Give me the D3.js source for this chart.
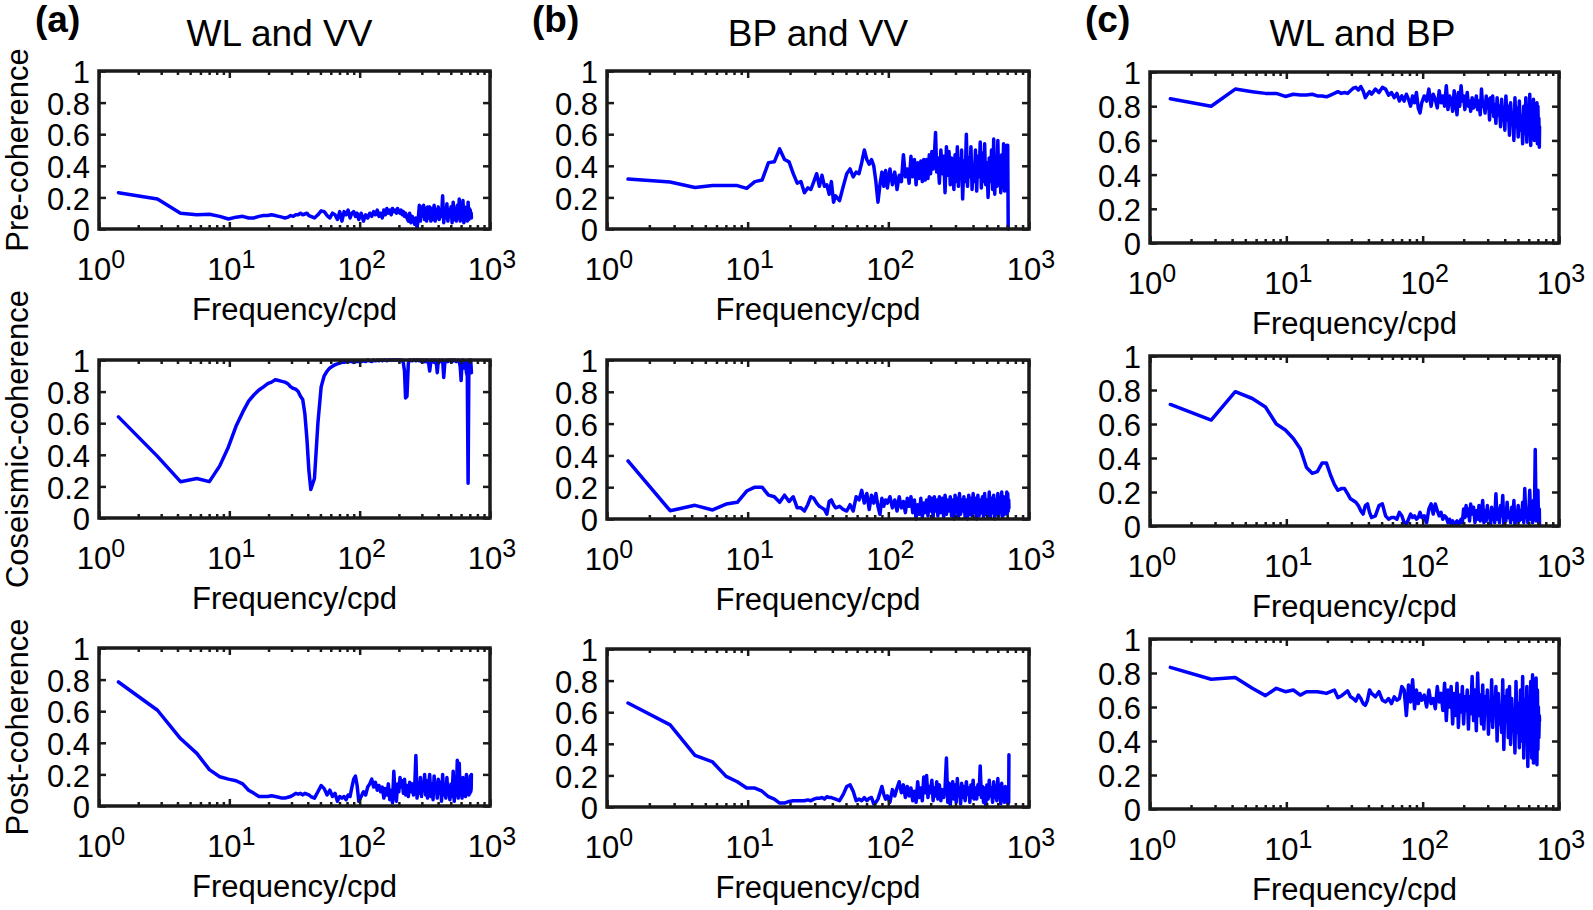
<!DOCTYPE html>
<html><head><meta charset="utf-8">
<script src="https://cdn.jsdelivr.net/npm/d3@7"></script>
<style>
html,body{margin:0;padding:0;background:#fff;}
svg{display:block;font-family:"Liberation Sans",Arial,Helvetica,sans-serif;}
</style></head>
<body><svg id="chart" width="1593" height="910"></svg>
<script>
// ---------------- DATA ----------------
const columnTitles = ["WL and VV", "BP and VV", "WL and BP"];
const panelLetters = ["(a)", "(b)", "(c)"];
const rowLabels = ["Pre-coherence", "Coseismic-coherence", "Post-coherence"];
const xLabel = "Frequency/cpd";
const yTicks = [0, 0.2, 0.4, 0.6, 0.8, 1];
const yTickLabels = ["0", "0.2", "0.4", "0.6", "0.8", "1"];
const xDecades = [1, 10, 100, 1000];
const xDecadeExps = ["0", "1", "2", "3"];

// frequency grid (cpd)
const freq = [
 1.41, 2.81, 4.22, 5.63, 7.03, 8.44, 9.84, 11.25, 12.66, 14.06,
 15.47, 16.88, 18.28, 19.69, 21.09, 22.5, 23.91, 25.31, 26.72, 28.13,
 29.53, 30.94, 32.34, 33.75, 35.16, 36.56, 37.97, 39.38, 40.78, 42.19,
 45.0, 47.81, 50.63, 53.44, 56.25, 59.06, 61.88, 64.69, 67.5, 70.31,
 73.13, 75.94, 78.75, 81.56, 84.38, 87.19, 90.0, 92.81, 95.63, 98.44,
 102.7, 106.9, 111.1, 115.3, 119.5, 123.8, 128.0, 132.2, 136.4, 140.6,
 144.8, 149.1, 153.3, 157.5, 161.7, 165.9, 170.2, 174.4, 178.6, 182.8,
 187.0, 191.3, 195.5, 199.7, 203.9, 208.1, 212.3, 216.6, 220.8, 225.0,
 230.6, 236.3, 241.9, 247.5, 253.1, 258.8, 264.4, 270.0, 275.6, 281.3,
 286.9, 292.5, 298.1, 303.8, 309.4, 315.0, 320.6, 326.3, 331.9, 337.5,
 344.5, 351.6, 358.6, 365.6, 372.7, 379.7, 386.7, 393.8, 400.8, 407.8,
 416.3, 424.7, 433.1, 441.6, 450.0, 458.4, 466.9, 475.3, 483.8, 492.2,
 502.0, 511.9, 521.7, 531.6, 541.4, 551.3, 561.1, 570.9, 580.8, 590.6,
 600.5, 610.3, 620.2, 630.0, 639.8, 649.7, 659.5, 669.4, 679.2, 689.1,
 694.7, 700.3, 705.9, 711.6, 717.2, 720.0
];

// (a) WL and VV
const wlvvPre = [
 0.23,0.19,0.10,0.09,0.093,0.08,0.063,0.075,0.08,0.07,
 0.07,0.08,0.085,0.085,0.09,0.085,0.08,0.075,0.07,0.075,
 0.085,0.08,0.09,0.09,0.10,0.09,0.095,0.10,0.085,0.08,
 0.07,0.09,0.115,0.11,0.085,0.07,0.10,0.09,0.06,0.11,
 0.05,0.11,0.09,0.12,0.07,0.10,0.11,0.08,0.10,0.06,
 0.10,0.05,0.09,0.07,0.10,0.08,0.11,0.09,0.12,0.08,
 0.10,0.07,0.12,0.09,0.13,0.10,0.12,0.09,0.13,0.11,
 0.12,0.10,0.13,0.11,0.10,0.12,0.09,0.11,0.08,0.10,
 0.07,0.05,0.10,0.04,0.08,0.06,0.03,0.07,0.01,0.06,
 0.15,0.05,0.14,0.08,0.15,0.06,0.13,0.05,0.14,0.07,
 0.14,0.05,0.13,0.06,0.15,0.05,0.12,0.07,0.14,0.06,
 0.12,0.08,0.21,0.04,0.13,0.07,0.16,0.05,0.12,0.08,
 0.14,0.04,0.17,0.06,0.13,0.05,0.15,0.07,0.19,0.05,
 0.16,0.06,0.18,0.04,0.14,0.07,0.12,0.05,0.17,0.06,
 0.13,0.07,0.12,0.08,0.10,0.07
];
const wlvvCo = [
 0.64,0.39,0.23,0.25,0.23,0.33,0.45,0.58,0.67,0.74,
 0.78,0.81,0.83,0.85,0.86,0.875,0.87,0.865,0.86,0.85,
 0.83,0.82,0.815,0.80,0.77,0.75,0.66,0.50,0.30,0.18,
 0.25,0.60,0.83,0.90,0.93,0.95,0.96,0.97,0.975,0.98,
 0.985,0.985,0.99,0.99,0.99,0.99,0.985,0.99,0.99,0.99,
 0.99,0.995,0.99,1.0,0.995,0.99,1.0,0.995,1.0,0.995,
 1.0,0.995,1.0,1.0,0.995,1.0,1.0,1.0,1.0,1.0,
 1.0,1.0,1.0,1.0,1.0,0.995,1.0,0.98,0.93,0.76,
 0.77,0.98,1.0,1.0,0.995,1.0,1.0,0.995,1.0,1.0,
 0.995,1.0,0.99,1.0,0.995,0.99,1.0,0.99,1.0,0.985,
 0.93,0.99,1.0,0.99,0.985,1.0,0.99,0.92,0.99,1.0,
 0.99,0.995,1.0,0.89,0.98,0.995,1.0,0.99,1.0,0.995,
 1.0,0.99,1.0,0.995,1.0,0.99,0.995,1.0,0.99,0.96,
 0.87,0.99,1.0,0.95,0.97,0.99,0.92,0.90,0.22,1.0,
 0.93,0.99,0.92,1.0,0.95,0.92
];
const wlvvPost = [
 0.785,0.606,0.427,0.333,0.23,0.185,0.17,0.16,0.14,0.10,
 0.08,0.06,0.06,0.06,0.065,0.06,0.055,0.05,0.05,0.055,
 0.06,0.07,0.08,0.075,0.08,0.07,0.08,0.075,0.07,0.06,
 0.05,0.09,0.13,0.11,0.07,0.10,0.06,0.08,0.03,0.06,
 0.05,0.06,0.04,0.07,0.06,0.12,0.17,0.19,0.13,0.03,
 0.06,0.09,0.07,0.12,0.14,0.17,0.12,0.15,0.10,0.13,
 0.09,0.12,0.05,0.11,0.07,0.14,0.04,0.10,0.02,0.22,
 0.08,0.03,0.14,0.09,0.18,0.12,0.16,0.08,0.17,0.07,
 0.13,0.06,0.15,0.09,0.14,0.07,0.12,0.32,0.05,0.13,
 0.08,0.18,0.06,0.14,0.10,0.20,0.07,0.16,0.05,0.12,
 0.20,0.06,0.14,0.04,0.19,0.09,0.13,0.05,0.17,0.08,
 0.15,0.03,0.20,0.07,0.13,0.05,0.18,0.08,0.11,0.04,
 0.14,0.06,0.22,0.03,0.12,0.07,0.29,0.05,0.27,0.08,
 0.13,0.05,0.18,0.08,0.12,0.06,0.20,0.09,0.10,0.07,
 0.13,0.08,0.19,0.09,0.11,0.20
];

// (b) BP and VV
const bpvvPre = [
 0.316,0.297,0.263,0.276,0.275,0.275,0.257,0.30,0.31,0.42,
 0.425,0.507,0.44,0.425,0.35,0.29,0.30,0.23,0.26,0.25,
 0.30,0.35,0.27,0.34,0.27,0.28,0.22,0.30,0.17,0.21,
 0.18,0.27,0.35,0.38,0.33,0.36,0.35,0.42,0.50,0.44,
 0.41,0.44,0.40,0.30,0.17,0.28,0.36,0.27,0.37,0.26,
 0.38,0.28,0.36,0.25,0.34,0.30,0.47,0.33,0.38,0.29,
 0.46,0.33,0.44,0.28,0.42,0.32,0.43,0.30,0.44,0.31,
 0.44,0.32,0.47,0.35,0.49,0.38,0.46,0.61,0.36,0.45,
 0.29,0.50,0.35,0.46,0.23,0.52,0.34,0.49,0.28,0.45,
 0.38,0.25,0.47,0.30,0.52,0.27,0.44,0.32,0.50,0.19,
 0.43,0.30,0.60,0.27,0.45,0.33,0.52,0.25,0.41,0.30,
 0.50,0.24,0.46,0.33,0.55,0.26,0.48,0.30,0.54,0.28,
 0.42,0.20,0.45,0.30,0.50,0.25,0.57,0.22,0.44,0.27,
 0.56,0.28,0.40,0.23,0.47,0.27,0.54,0.24,0.38,0.25,
 0.53,0.24,0.53,0.0,0.0,0.0
];
const bpvvCo = [
 0.365,0.052,0.086,0.057,0.094,0.105,0.176,0.20,0.20,0.15,
 0.14,0.105,0.15,0.11,0.14,0.07,0.07,0.05,0.09,0.14,
 0.13,0.10,0.08,0.07,0.06,0.03,0.11,0.12,0.09,0.07,
 0.08,0.06,0.05,0.09,0.05,0.14,0.12,0.18,0.10,0.16,
 0.06,0.15,0.10,0.16,0.08,0.03,0.13,0.08,0.12,0.10,
 0.14,0.07,0.12,0.05,0.14,0.07,0.11,0.04,0.13,0.08,
 0.14,0.04,0.12,0.0,0.09,0.03,0.13,0.01,0.10,0.04,
 0.12,0.02,0.14,0.05,0.13,0.01,0.14,0.05,0.12,0.02,
 0.14,0.04,0.13,0.01,0.15,0.03,0.12,0.05,0.14,0.02,
 0.12,0.0,0.15,0.04,0.13,0.01,0.16,0.03,0.12,0.05,
 0.14,0.01,0.12,0.0,0.15,0.03,0.13,0.02,0.16,0.04,
 0.13,0.0,0.15,0.02,0.12,0.04,0.14,0.01,0.16,0.03,
 0.12,0.02,0.17,0.01,0.13,0.04,0.15,0.0,0.12,0.03,
 0.16,0.02,0.13,0.05,0.17,0.01,0.14,0.03,0.12,0.04,
 0.17,0.03,0.16,0.05,0.12,0.07
];
const bpvvPost = [
 0.658,0.52,0.327,0.285,0.194,0.16,0.12,0.12,0.10,0.065,
 0.05,0.025,0.025,0.035,0.04,0.04,0.04,0.04,0.045,0.04,
 0.05,0.055,0.055,0.06,0.05,0.065,0.06,0.06,0.055,0.05,
 0.04,0.08,0.13,0.14,0.10,0.04,0.05,0.04,0.06,0.04,
 0.055,0.06,0.02,0.03,0.05,0.09,0.13,0.08,0.05,0.07,
 0.03,0.11,0.07,0.12,0.16,0.09,0.14,0.06,0.13,0.07,
 0.12,0.04,0.10,0.03,0.16,0.06,0.12,0.04,0.19,0.09,
 0.20,0.06,0.13,0.09,0.17,0.04,0.12,0.07,0.16,0.05,
 0.14,0.04,0.11,0.06,0.12,0.31,0.03,0.15,0.01,0.12,
 0.16,0.05,0.14,0.03,0.18,0.07,0.12,0.02,0.15,0.06,
 0.13,0.04,0.16,0.08,0.12,0.03,0.14,0.06,0.17,0.05,
 0.12,0.05,0.14,0.08,0.26,0.06,0.13,0.03,0.12,0.0,
 0.14,0.05,0.17,0.07,0.12,0.03,0.16,0.06,0.13,0.04,
 0.18,0.07,0.12,0.02,0.15,0.05,0.11,0.03,0.13,0.04,
 0.12,0.03,0.10,0.02,0.03,0.33
];

// (c) WL and BP
const wlbpPre = [
 0.843,0.80,0.90,0.885,0.875,0.875,0.857,0.87,0.865,0.865,
 0.87,0.86,0.86,0.855,0.865,0.875,0.885,0.875,0.88,0.875,
 0.89,0.905,0.91,0.895,0.915,0.89,0.85,0.87,0.885,0.87,
 0.90,0.88,0.91,0.90,0.865,0.88,0.85,0.875,0.83,0.86,
 0.83,0.87,0.84,0.80,0.86,0.82,0.88,0.79,0.76,0.82,
 0.86,0.83,0.90,0.80,0.87,0.84,0.79,0.89,0.82,0.86,
 0.80,0.92,0.78,0.86,0.84,0.77,0.89,0.82,0.75,0.88,
 0.80,0.92,0.83,0.86,0.78,0.84,0.88,0.80,0.83,0.77,
 0.85,0.79,0.81,0.86,0.78,0.83,0.75,0.90,0.80,0.82,
 0.76,0.86,0.79,0.84,0.72,0.85,0.77,0.86,0.74,0.81,
 0.70,0.85,0.75,0.80,0.68,0.84,0.72,0.78,0.66,0.86,
 0.72,0.80,0.63,0.82,0.70,0.76,0.60,0.85,0.68,0.79,
 0.62,0.83,0.66,0.74,0.58,0.80,0.64,0.85,0.59,0.76,
 0.66,0.87,0.57,0.78,0.63,0.84,0.60,0.75,0.67,0.82,
 0.58,0.80,0.64,0.73,0.56,0.68
];
const wlbpCo = [
 0.715,0.623,0.79,0.75,0.70,0.60,0.565,0.515,0.455,0.344,
 0.31,0.32,0.37,0.37,0.30,0.245,0.21,0.22,0.22,0.19,
 0.16,0.15,0.14,0.12,0.09,0.07,0.12,0.13,0.08,0.05,
 0.06,0.12,0.13,0.06,0.04,0.05,0.05,0.04,0.08,0.06,
 0.02,0.01,0.04,0.07,0.05,0.06,0.04,0.05,0.08,0.05,
 0.06,0.02,0.10,0.13,0.07,0.13,0.09,0.06,0.08,0.04,
 0.06,0.05,0.02,0.04,0.01,0.03,0.01,0.02,0.03,0.01,
 0.02,0.04,0.02,0.10,0.05,0.12,0.06,0.10,0.03,0.13,
 0.07,0.11,0.02,0.09,0.04,0.12,0.03,0.08,0.15,0.02,
 0.09,0.03,0.12,0.05,0.07,0.01,0.11,0.04,0.08,0.02,
 0.19,0.04,0.10,0.02,0.12,0.06,0.18,0.01,0.09,0.03,
 0.14,0.05,0.08,0.02,0.11,0.04,0.15,0.01,0.07,0.03,
 0.12,0.03,0.09,0.04,0.14,0.02,0.22,0.05,0.10,0.02,
 0.08,0.21,0.04,0.12,0.02,0.15,0.04,0.45,0.03,0.20,
 0.05,0.21,0.08,0.02,0.10,0.01
];
const wlbpPost = [
 0.833,0.763,0.773,0.71,0.667,0.71,0.69,0.70,0.67,0.69,
 0.69,0.69,0.685,0.68,0.69,0.70,0.655,0.665,0.68,0.695,
 0.66,0.65,0.635,0.67,0.65,0.62,0.61,0.64,0.70,0.68,
 0.66,0.69,0.64,0.63,0.65,0.62,0.66,0.64,0.65,0.72,
 0.70,0.55,0.73,0.63,0.76,0.59,0.70,0.62,0.68,0.64,
 0.67,0.60,0.70,0.62,0.65,0.59,0.72,0.63,0.68,0.58,
 0.74,0.52,0.70,0.60,0.72,0.50,0.68,0.55,0.74,0.48,
 0.67,0.57,0.72,0.50,0.66,0.58,0.70,0.47,0.66,0.56,
 0.78,0.52,0.70,0.46,0.80,0.55,0.67,0.50,0.73,0.47,
 0.66,0.56,0.70,0.44,0.63,0.52,0.76,0.48,0.65,0.55,
 0.72,0.40,0.68,0.50,0.60,0.45,0.76,0.35,0.66,0.52,
 0.70,0.42,0.72,0.38,0.65,0.48,0.58,0.33,0.75,0.45,
 0.62,0.36,0.70,0.40,0.78,0.30,0.64,0.42,0.72,0.25,
 0.66,0.40,0.75,0.30,0.79,0.27,0.62,0.44,0.77,0.26,
 0.70,0.35,0.60,0.42,0.55,0.52
];

const seriesGrid = [
  [wlvvPre, bpvvPre, wlbpPre],
  [wlvvCo,  bpvvCo,  wlbpCo],
  [wlvvPost, bpvvPost, wlbpPost]
];

// ---------------- LAYOUT ----------------
const colX = [[99, 490], [607, 1029], [1150, 1559]];
const rowY = [
  [[71, 229], [360, 518], [648, 806]],   // column a
  [[71, 229], [360, 519], [649, 807]],   // column b
  [[72, 243], [356, 526], [639, 809]]    // column c
];
const titleOffset = [-15, 0, 8];
const letterX = [35, 532, 1085];

const svg = d3.select("#chart");
const FONT = 31;

for (let c = 0; c < 3; c++) {
  svg.append("text").attr("x", letterX[c]).attr("y", 32)
    .attr("font-size", 37).attr("font-weight", "bold").text(panelLetters[c]);
  svg.append("text").attr("x", (colX[c][0] + colX[c][1]) / 2 + titleOffset[c]).attr("y", 46)
    .attr("text-anchor", "middle").attr("font-size", 37).text(columnTitles[c]);

  for (let r = 0; r < 3; r++) {
    const [x0, x1] = colX[c];
    const [y0, y1] = rowY[c][r];
    const vals = seriesGrid[r][c];
    const n = Math.min(vals.length, freq.length);
    const pts = d3.range(n).map(i => [freq[i], vals[i]]);

    const x = d3.scaleLog().domain([1, 1000]).range([x0, x1]);
    const y = d3.scaleLinear().domain([0, 1]).range([y1, y0]);

    const g = svg.append("g");
    const clipId = `clip-${c}-${r}`;
    g.append("clipPath").attr("id", clipId).append("rect")
      .attr("x", x0).attr("y", y0 - 2).attr("width", x1 - x0).attr("height", y1 - y0 + 4);

    g.append("path").datum(pts)
      .attr("clip-path", `url(#${clipId})`)
      .attr("fill", "none").attr("stroke", "#0000ff").attr("stroke-width", 3.5)
      .attr("stroke-linejoin", "round").attr("stroke-linecap", "round")
      .attr("d", d3.line().x(d => x(d[0])).y(d => y(d[1])));

    const minorTicks = [];
    for (let e = 0; e < 3; e++) for (let m = 2; m <= 9; m++) minorTicks.push(m * Math.pow(10, e));
    const tickStyle = sel => { sel.select(".domain").remove(); sel.selectAll("line").attr("stroke", "#1a1a1a").attr("stroke-width", 2.5); sel.selectAll("text").remove(); };
    g.append("g").attr("transform", `translate(0,${y1})`)
      .call(d3.axisBottom(x).tickValues(minorTicks).tickSize(-4).tickFormat("")).call(tickStyle);
    g.append("g").attr("transform", `translate(0,${y0})`)
      .call(d3.axisTop(x).tickValues(minorTicks).tickSize(-4).tickFormat("")).call(tickStyle);
    g.append("g").attr("transform", `translate(0,${y1})`)
      .call(d3.axisBottom(x).tickValues(xDecades).tickSize(-7).tickFormat("")).call(tickStyle);
    g.append("g").attr("transform", `translate(0,${y0})`)
      .call(d3.axisTop(x).tickValues(xDecades).tickSize(-7).tickFormat("")).call(tickStyle);

    const ya = g.append("g").attr("transform", `translate(${x0},0)`)
      .call(d3.axisLeft(y).tickValues(yTicks).tickSize(-7).tickPadding(9)
        .tickFormat((d, i) => yTickLabels[i]));
    ya.select(".domain").remove();
    ya.selectAll("line").attr("stroke", "#1a1a1a").attr("stroke-width", 2.5);
    ya.selectAll("text").attr("font-size", FONT).attr("font-family", "Liberation Sans, Arial, sans-serif")
      .attr("fill", "#000").attr("dy", "0.38em");
    g.append("g").attr("transform", `translate(${x1},0)`)
      .call(d3.axisRight(y).tickValues(yTicks).tickSize(-7).tickFormat("")).call(tickStyle);

    g.append("rect").attr("x", x0).attr("y", y0).attr("width", x1 - x0).attr("height", y1 - y0)
      .attr("fill", "none").attr("stroke", "#1a1a1a").attr("stroke-width", 3.5);

    xDecades.forEach((d, i) => {
      const t = g.append("text").attr("x", x(d) + 2).attr("y", y1 + 51)
        .attr("text-anchor", "middle").attr("font-size", FONT);
      t.append("tspan").text("10");
      t.append("tspan").attr("font-size", 25).attr("dy", -12).text(xDecadeExps[i]);
    });

    g.append("text").attr("x", (x0 + x1) / 2).attr("y", y1 + 91)
      .attr("text-anchor", "middle").attr("font-size", 31).text(xLabel);

    if (c === 0) {
      g.append("text").attr("transform", `translate(28,${(y0 + y1) / 2}) rotate(-90)`)
        .attr("text-anchor", "middle").attr("font-size", 31).text(rowLabels[r]);
    }
  }
}
</script>
</body></html>
